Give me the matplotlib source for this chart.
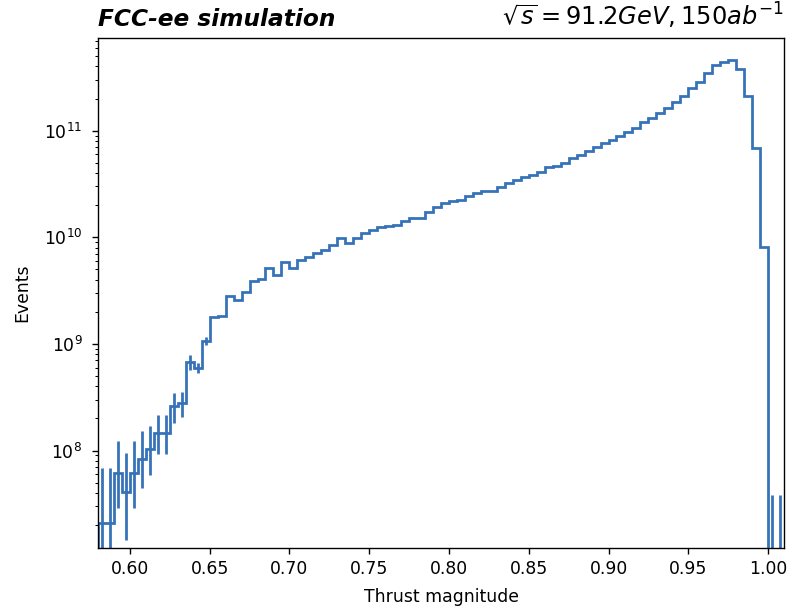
import numpy as np
import matplotlib.pyplot as plt

# === dati =================================================================
x_min, x_max = 0.58, 1.01
bin_w = 0.005
y_lim = (1.22e7, 7.4e11)

events = [
    2.11e7, 2.11e7, 6.22e7, 4.13e7, 6.22e7, 8.30e7, 1.03e8, 1.46e8, 1.46e8, 2.62e8,
    2.78e8, 6.82e8, 5.96e8, 1.07e9, 1.78e9, 1.83e9, 2.82e9, 2.58e9, 3.09e9, 3.89e9,
    4.04e9, 5.12e9, 4.44e9, 5.91e9, 5.12e9, 6.13e9, 6.58e9, 7.13e9, 7.60e9, 8.47e9,
    9.79e9, 8.79e9, 9.85e9, 1.09e10, 1.17e10, 1.26e10, 1.28e10, 1.30e10, 1.42e10, 1.51e10,
    1.51e10, 1.74e10, 1.92e10, 2.08e10, 2.19e10, 2.24e10, 2.44e10, 2.62e10, 2.72e10, 2.73e10,
    2.98e10, 3.25e10, 3.44e10, 3.65e10, 3.84e10, 4.12e10, 4.53e10, 4.66e10, 5.00e10, 5.50e10,
    5.90e10, 6.44e10, 6.98e10, 7.60e10, 8.17e10, 8.89e10, 9.77e10, 1.07e11, 1.20e11, 1.32e11,
    1.47e11, 1.64e11, 1.87e11, 2.11e11, 2.49e11, 2.87e11, 3.44e11, 4.12e11, 4.40e11, 4.59e11,
    3.76e11, 2.11e11, 6.92e10, 8.17e9, 1.15e7, 1.15e7,
]

# barre d'errore visibili solo nei bin con poca statistica
err_bins   = [0, 1, 2, 3, 4, 5, 6, 7, 8, 9, 10, 11, 12, 13, 84, 85]
err_top    = [6.84e7, 6.84e7, 1.23e8, 9.57e7, 1.23e8, 1.51e8, 1.71e8, 2.16e8, 2.16e8, 3.45e8,
              3.57e8, 7.89e8, 6.59e8, 1.17e9, 3.85e7, 3.85e7]
err_bottom = [0.0, 0.0, 2.88e7, 1.46e7, 2.92e7, 4.44e7, 5.92e7, 9.31e7, 9.31e7, 1.81e8,
              2.08e8, 5.70e8, 5.37e8, 9.79e8, 0.0, 0.0]
# ==========================================================================

events = np.array(events)
edges = x_min + bin_w * np.arange(len(events) + 1)
centri = 0.5 * (edges[1:] + edges[:-1])

colore = "#3572b8"

fig = plt.figure(figsize=(794 / 124, 609 / 124), dpi=124)
ax = fig.add_axes([0.1234, 0.1002, 0.8640, 0.8374])

ax.stairs(events, edges, color=colore, linewidth=1.6)

idx = np.array(err_bins)
v = events[idx]
yerr = [v - np.array(err_bottom), np.array(err_top) - v]
ax.errorbar(centri[idx], v, yerr=yerr, fmt="none", ecolor=colore, elinewidth=1.6)

ax.set_yscale("log")
ax.set_xlim(x_min, x_max)
ax.set_ylim(*y_lim)
ax.set_xticks(np.arange(0.60, 1.001, 0.05))
ax.tick_params(axis="y", which="major", pad=5.5)

ax.set_xlabel("Thrust magnitude", labelpad=6)
ax.set_ylabel("Events", labelpad=7.5)
ax.set_title("FCC-ee simulation", loc="left", fontsize=13.5,
             fontweight="bold", fontstyle="italic", pad=7)
ax.set_title(r"$\sqrt{s} = 91.2 GeV, 150 ab^{-1}$", loc="right", fontsize=14, pad=7)

fig.savefig("out.png", dpi=124)
